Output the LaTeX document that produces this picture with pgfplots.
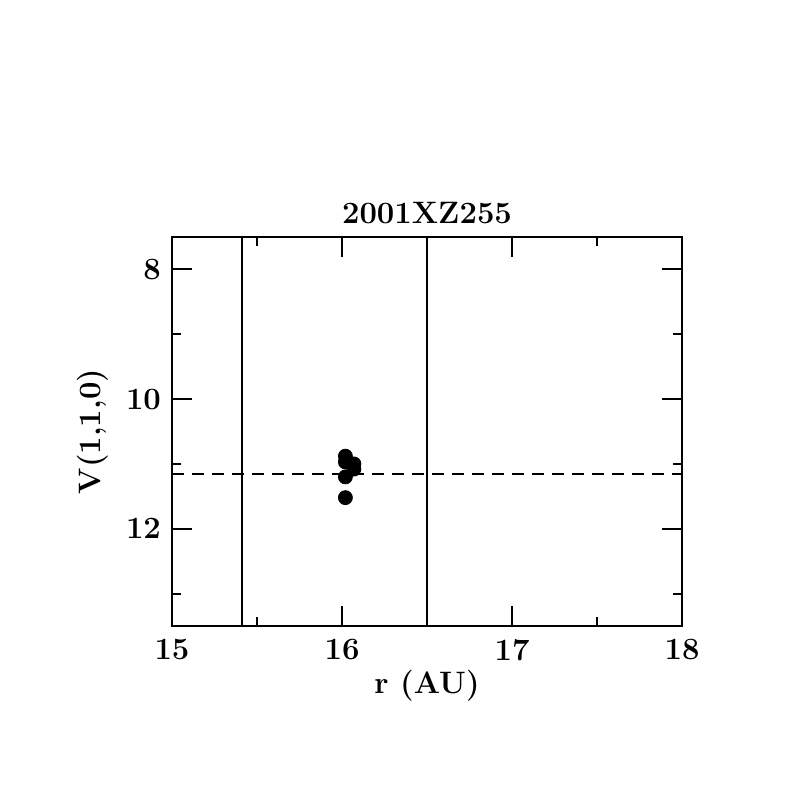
\documentclass[border=0pt]{standalone}
\usepackage{pgfplots}
\pgfplotsset{compat=1.18}
\begin{document}
\begin{tikzpicture}
\begin{axis}[
  at={(0pt,0pt)}, anchor=south west,
  scale only axis, width=255pt, height=194.5pt,
  xmin=15, xmax=18, ymin=7.5, ymax=13.5, y dir=reverse,
  xtick={15,16,17,18}, minor xtick={15.5,16.5,17.5},
  ytick={8,10,12}, minor ytick={9,11,13},
  tick align=inside, major tick length=10pt, minor tick length=4.5pt,
  xtick pos=both, ytick pos=both,
  xticklabel pos=bottom, yticklabel pos=left,
  tick style={black, line width=1pt},
  axis line style={line width=1pt},
  /pgf/number format/assume math mode=true,
  ticklabel style={font=\fontsize{15.5}{17}\selectfont\bfseries},
  label style={font=\fontsize{15.5}{17}\selectfont\bfseries},
  title style={font=\fontsize{15.5}{17}\selectfont\bfseries, yshift=-3pt},
  xticklabel style={yshift=-3pt},
  yticklabel style={xshift=-2pt},
  title={2001XZ255},
  xlabel={r (AU)}, ylabel={V(1,1,0)},
  xlabel style={yshift=2pt},
  ylabel style={yshift=2pt},
  clip=false,
]
\addplot[only marks, mark=*, mark size=3.5pt, black] coordinates {
(16.02,10.88) (16.02,10.97) (16.07,11.00) (16.07,11.08) (16.02,11.20) (16.02,11.52)
};
\addplot[black, line width=1pt] coordinates {(15.41,7.5) (15.41,13.5)};
\addplot[black, line width=1pt] coordinates {(16.5,7.5) (16.5,13.5)};
\addplot[black, line width=1pt, dash pattern=on 6pt off 4pt] coordinates {(15,11.15) (18,11.15)};
\end{axis}
\path (-86pt,-85.5pt) rectangle (312.5pt,313pt);
\end{tikzpicture}
\end{document}
